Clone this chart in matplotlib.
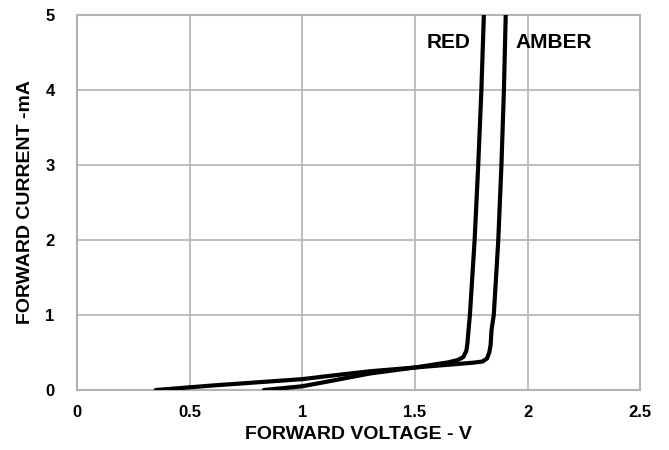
import numpy as np
import matplotlib
matplotlib.use("Agg")
import matplotlib.pyplot as plt

plt.rcParams['font.family'] = ['Liberation Sans', 'DejaVu Sans']
plt.rcParams['font.weight'] = 'bold'

# forward voltage (V) vs forward current (mA)
red_v = [0.35, 0.6, 1.0, 1.125, 1.3, 1.5, 1.65, 1.69, 1.715, 1.728, 1.733,
         1.738, 1.744, 1.765, 1.781, 1.795, 1.806]
red_i = [0.0, 0.06, 0.145, 0.19, 0.25, 0.30, 0.37, 0.40, 0.44, 0.52, 0.62,
         0.8, 1.0, 2.0, 3.0, 4.0, 5.0]

amber_v = [0.83, 1.0, 1.125, 1.3, 1.5, 1.7, 1.76, 1.80, 1.82, 1.83, 1.836,
           1.84, 1.85, 1.87, 1.884, 1.895, 1.903]
amber_i = [0.0, 0.05, 0.12, 0.22, 0.30, 0.35, 0.365, 0.38, 0.42, 0.5, 0.6,
           0.8, 1.0, 2.0, 3.0, 4.0, 5.0]

x_ticks = [0, 0.5, 1, 1.5, 2, 2.5]
x_labels = ['0', '0.5', '1', '1.5', '2', '2.5']
y_ticks = [0, 1, 2, 3, 4, 5]
y_labels = ['0', '1', '2', '3', '4', '5']

fig = plt.figure(figsize=(6.69, 4.5), dpi=100)
ax = fig.add_axes([0.115, 0.1333, 0.842, 0.8334])

grid_col = '#b3b3b3'
ax.plot(red_v, red_i, color='black', lw=3, solid_capstyle='round', zorder=3)
ax.plot(amber_v, amber_i, color='black', lw=3, solid_capstyle='round', zorder=3)

ax.set_xlim(0, 2.5)
ax.set_ylim(0, 5)
ax.set_xticks(x_ticks)
ax.set_xticklabels(x_labels)
ax.set_yticks(y_ticks)
ax.set_yticklabels(y_labels)
ax.grid(True, color=grid_col, lw=1.2)
ax.set_axisbelow(True)
for s in ax.spines.values():
    s.set_color(grid_col)
    s.set_linewidth(1.5)

ax.tick_params(axis='both', length=0, labelsize=12)
ax.tick_params(axis='x', pad=11)
ax.tick_params(axis='y', pad=16)
plt.setp(ax.get_xticklabels() + ax.get_yticklabels(), fontweight='bold')

ax.set_xlabel('FORWARD VOLTAGE - V', fontsize=14, fontweight='bold', labelpad=4)
ax.set_ylabel('FORWARD CURRENT -mA', fontsize=14, fontweight='bold', labelpad=8)

ax.text(1.65, 4.63, 'RED', fontsize=15, fontweight='bold', ha='center', va='center')
ax.text(1.945, 4.63, 'AMBER', fontsize=15, fontweight='bold', ha='left', va='center')

fig.savefig('out.png', dpi=100)
